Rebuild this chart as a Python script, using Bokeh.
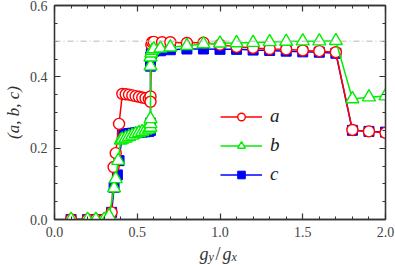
from bokeh.plotting import figure
from bokeh.layouts import column
from bokeh.models import (LinearAxis, FixedTicker, Span, Label, Legend,
                          LegendItem, Range1d, CustomJSTickFormatter)
from bokeh.embed import file_html
from bokeh.resources import INLINE

# ---------------- data ----------------
x_a = [0.10, 0.20, 0.25, 0.30, 0.33, 0.345, 0.357, 0.37, 0.39,
       0.41, 0.43, 0.45, 0.47, 0.49, 0.51, 0.53, 0.55, 0.57,
       0.58, 0.58, 0.585, 0.59, 0.60, 0.65, 0.70,
       0.80, 0.90, 1.00, 1.10, 1.20, 1.30, 1.40, 1.50, 1.60, 1.70, 1.80, 1.90, 2.00]
a = [0.0, 0.0, 0.0, 0.0, 0.003, 0.02, 0.147, 0.186, 0.268,
     0.352, 0.351, 0.350, 0.348, 0.346, 0.344, 0.342, 0.340, 0.338,
     0.345, 0.330, 0.490, 0.497, 0.498, 0.497, 0.497,
     0.495, 0.496, 0.490, 0.484, 0.481, 0.478, 0.477, 0.474, 0.472, 0.469, 0.251, 0.247, 0.243]

x_b = [0.10, 0.20, 0.25, 0.30, 0.33, 0.36, 0.37, 0.385, 0.40,
       0.41, 0.43, 0.45, 0.47, 0.49, 0.51, 0.53, 0.55, 0.57,
       0.58, 0.58, 0.58, 0.58, 0.58, 0.585, 0.59, 0.60, 0.64, 0.70,
       0.80, 0.90, 1.00, 1.10, 1.20, 1.30, 1.40, 1.50, 1.60, 1.70, 1.80, 1.90, 2.00]
b = [0.0, 0.0, 0.0, 0.0, 0.01, 0.088, 0.114, 0.165, 0.222,
     0.225, 0.228, 0.232, 0.236, 0.240, 0.243, 0.246, 0.250, 0.253,
     0.258, 0.268, 0.282, 0.430, 0.455, 0.466, 0.474, 0.478, 0.480, 0.483,
     0.487, 0.492, 0.494, 0.495, 0.496, 0.498, 0.499, 0.500, 0.500, 0.501, 0.338, 0.343, 0.346]

x_c = [0.10, 0.20, 0.25, 0.30, 0.33, 0.345, 0.36, 0.38, 0.39,
       0.41, 0.43, 0.45, 0.47, 0.49, 0.51, 0.53, 0.55, 0.57,
       0.58, 0.58, 0.58, 0.58, 0.585, 0.59, 0.60, 0.64, 0.70,
       0.80, 0.90, 1.00, 1.10, 1.20, 1.30, 1.40, 1.50, 1.60, 1.70, 1.80, 1.90, 2.00]
c = [0.0, 0.0, 0.0, 0.0, 0.003, 0.02, 0.09, 0.125, 0.165,
     0.238, 0.240, 0.241, 0.242, 0.243, 0.244, 0.245, 0.246, 0.247,
     0.250, 0.270, 0.430, 0.455, 0.465, 0.470, 0.472, 0.473, 0.476,
     0.478, 0.478, 0.477, 0.477, 0.475, 0.474, 0.472, 0.470, 0.469, 0.466, 0.250, 0.247, 0.245]

series_labels = ["a", "b", "c"]
ref_level = 0.5
x_limits = (0.0, 2.0)
y_limits = (0.0, 0.6)
x_major = [0.0, 0.5, 1.0, 1.5, 2.0]
x_minor = [0.1, 0.2, 0.3, 0.4, 0.6, 0.7, 0.8, 0.9, 1.1, 1.2, 1.3, 1.4,
           1.6, 1.7, 1.8, 1.9]
y_major = [0.0, 0.2, 0.4, 0.6]
y_minor = [0.05, 0.1, 0.15, 0.25, 0.3, 0.35, 0.45, 0.5, 0.55]

# ---------------- figure ----------------
AX = "#333333"
SERIF = "Liberation Serif"

p = figure(width=395, height=245,
           x_range=Range1d(*x_limits), y_range=Range1d(*y_limits),
           output_backend="svg", toolbar_location=None,
           min_border_left=52, min_border_right=10,
           min_border_top=5, min_border_bottom=26)
p.xgrid.visible = False
p.ygrid.visible = False
p.outline_line_color = AX
p.outline_line_width = 1.3
p.background_fill_color = "white"
p.border_fill_color = "white"


def style_axis(ax, labels=True):
    ax.axis_line_color = AX
    ax.axis_line_width = 1.3
    ax.major_tick_line_color = AX
    ax.minor_tick_line_color = AX
    ax.major_tick_line_width = 1.2
    ax.minor_tick_line_width = 1.0
    ax.major_tick_in = 6
    ax.major_tick_out = 0
    ax.minor_tick_in = 3
    ax.minor_tick_out = 0
    if labels:
        ax.major_label_text_font = SERIF
        ax.major_label_text_font_size = "14px"
        ax.major_label_text_color = "#444444"
        ax.formatter = CustomJSTickFormatter(code="return tick.toFixed(1)")
    else:
        ax.formatter = CustomJSTickFormatter(code="return ''")
        ax.major_label_text_font_size = "0px"
        ax.major_label_standoff = 0


def xticker():
    return FixedTicker(ticks=x_major, minor_ticks=x_minor)


def yticker():
    return FixedTicker(ticks=y_major, minor_ticks=y_minor)


p.xaxis.ticker = xticker()
p.yaxis.ticker = yticker()
style_axis(p.xaxis[0])
style_axis(p.yaxis[0])
p.xaxis.major_label_standoff = 7
p.yaxis.major_label_standoff = 7
p.yaxis.axis_label = "(a, b, c)"
p.yaxis.axis_label_text_font = SERIF
p.yaxis.axis_label_text_font_style = "italic"
p.yaxis.axis_label_text_font_size = "17px"
p.yaxis.axis_label_text_color = "#333333"
p.yaxis.axis_label_standoff = 4

top = LinearAxis(ticker=xticker())
style_axis(top, labels=False)
p.add_layout(top, "above")
right = LinearAxis(ticker=yticker())
style_axis(right, labels=False)
p.add_layout(right, "right")

# reference line
p.add_layout(Span(location=ref_level, dimension="width", line_color="#b8b8b8",
                  line_width=1, line_dash="6 3 1 3"))

# ---------------- series ----------------
RED, GREEN, BLUE = "#ff0000", "#00ee00", "#0000ff"

lc = p.line(x_c, c, line_color=BLUE, line_width=1.5)
sc = p.scatter(x_c, c, marker="square", size=10, fill_color=BLUE, line_color=BLUE)
la = p.line(x_a, a, line_color=RED, line_width=1.5)
sa = p.scatter(x_a, a, marker="circle", size=11, fill_color="white", line_color=RED, line_width=1.4)
lb = p.line(x_b, b, line_color=GREEN, line_width=1.5)
sb = p.scatter(x_b, b, marker="triangle", size=13, fill_color="white", line_color=GREEN, line_width=1.4)

legend = Legend(items=[LegendItem(label=series_labels[0], renderers=[la, sa]),
                       LegendItem(label=series_labels[1], renderers=[lb, sb]),
                       LegendItem(label=series_labels[2], renderers=[lc, sc])],
                location=(166, 34), padding=0, margin=0, spacing=7,
                glyph_width=42, glyph_height=19, label_standoff=8,
                border_line_color=None, background_fill_alpha=0,
                label_text_font=SERIF, label_text_font_style="italic",
                label_text_font_size="19px", label_text_color="#222222")
p.add_layout(legend)

# ---------------- x-axis title strip (g_y / g_x) ----------------
q = figure(width=395, height=20, x_range=Range1d(0, 395), y_range=Range1d(0, 20),
           output_backend="svg", toolbar_location=None,
           x_axis_type=None, y_axis_type=None, min_border=0)
q.xgrid.visible = False
q.ygrid.visible = False
q.outline_line_color = None
q.background_fill_color = "white"
q.border_fill_color = "white"


def lab(x, y, text, size="18px", style="italic"):
    q.add_layout(Label(x=x, y=y, x_units="screen", y_units="screen", text=text,
                       text_align="left", text_baseline="alphabetic",
                       text_font=SERIF, text_font_style=style,
                       text_font_size=size, text_color="#333333"))


# positions are relative to the strip's frame, which is aligned with the plot frame
gx0, gy0 = 145, 12
lab(gx0, gy0, "g")
lab(gx0 + 9, gy0 - 3.5, "y", size="12px")
lab(gx0 + 16, gy0, "/", style="normal")
lab(gx0 + 23, gy0, "g")
lab(gx0 + 32, gy0 - 3.5, "x", size="12px")

layout = column(p, q, spacing=0)
open("out.html", "w").write(file_html(layout, INLINE))
